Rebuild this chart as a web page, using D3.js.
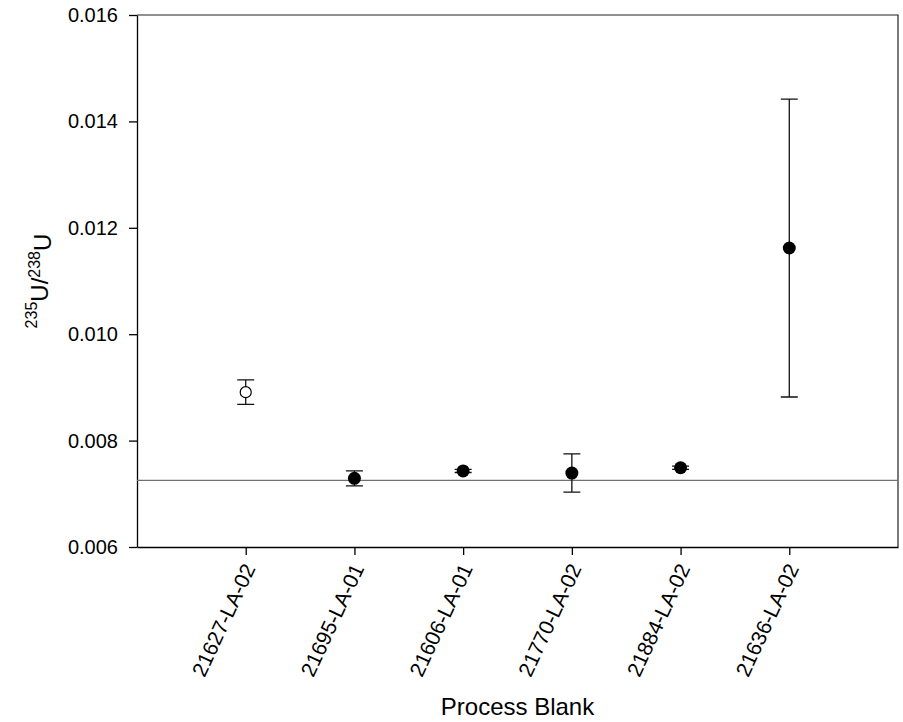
<html>
<head>
    <meta charset="utf-8">
    <title>Process Blank</title>
    <script src="https://d3js.org/d3.v7.min.js"></script>
    <style>
        body { margin: 0; background: #fff; }
        text { font-family: "Liberation Sans", Arial, sans-serif; fill: #000; }
    </style>
</head>
<body>
<script>
    var width = 903,
        height = 722,
        plotLeft = 137,
        plotRight = 898,
        plotTop = 15,
        plotBottom = 547;

    // data
    var samples = ["21627-LA-02", "21695-LA-01", "21606-LA-01", "21770-LA-02", "21884-LA-02", "21636-LA-02"];
    var ratios = [0.00891, 0.00729, 0.00743, 0.00739, 0.00749, 0.01162];
    var errors = [0.00023, 0.00014, 0.00003, 0.00036, 0.00003, 0.00280];
    var openMarker = [true, false, false, false, false, false];
    var yTicks = [0.006, 0.008, 0.010, 0.012, 0.014, 0.016];
    var naturalRatio = 0.007253;

    var svg = d3.select("body").append("svg")
        .attr("width", width)
        .attr("height", height);

    var x = d3.scaleLinear().domain([0, samples.length + 1]).range([plotLeft, plotRight]);
    var y = d3.scaleLinear().domain([0.006, 0.016]).range([plotBottom, plotTop]);

    // frame top and right
    svg.append("path")
        .attr("d", "M" + plotLeft + "," + plotTop + "H" + plotRight + "V" + plotBottom)
        .attr("fill", "none")
        .attr("stroke", "#222")
        .attr("stroke-width", 1.2);

    // y axis
    var yAxis = svg.append("g")
        .attr("transform", "translate(" + plotLeft + ",0)")
        .call(d3.axisLeft(y).tickValues(yTicks).tickFormat(d3.format(".3f"))
            .tickSize(8).tickSizeOuter(0).tickPadding(11));

    // x axis
    var xAxis = svg.append("g")
        .attr("transform", "translate(0," + plotBottom + ")")
        .call(d3.axisBottom(x).tickValues(d3.range(1, samples.length + 1))
            .tickFormat(function (d) { return samples[d - 1]; })
            .tickSize(8).tickSizeOuter(0));

    svg.selectAll(".domain, .tick line")
        .attr("stroke", "#000")
        .attr("stroke-width", 1.3);

    yAxis.selectAll("text").style("font-size", "20px").style("font-family", "Liberation Sans, Arial, sans-serif");

    xAxis.selectAll("text")
        .style("font-size", "21px")
        .style("font-family", "Liberation Sans, Arial, sans-serif")
        .attr("text-anchor", "end")
        .attr("y", 0)
        .attr("dy", "0.35em")
        .attr("transform", "translate(3,18) rotate(-65)");

    // reference line
    svg.append("line")
        .attr("x1", plotLeft).attr("x2", plotRight)
        .attr("y1", y(naturalRatio)).attr("y2", y(naturalRatio))
        .attr("stroke", "#707070")
        .attr("stroke-width", 1.4);

    // error bars
    var pts = svg.selectAll(".pt").data(samples)
        .enter().append("g")
        .attr("class", "pt");

    pts.append("path")
        .attr("d", function (d, i) {
            var cx = x(i + 1), y1 = y(ratios[i] + errors[i]), y2 = y(ratios[i] - errors[i]);
            return "M" + cx + "," + y1 + "V" + y2 +
                "M" + (cx - 8.5) + "," + y1 + "H" + (cx + 8.5) +
                "M" + (cx - 8.5) + "," + y2 + "H" + (cx + 8.5);
        })
        .attr("fill", "none")
        .attr("stroke", "#111")
        .attr("stroke-width", 1.3);

    pts.append("circle")
        .attr("cx", function (d, i) { return x(i + 1); })
        .attr("cy", function (d, i) { return y(ratios[i]); })
        .attr("r", function (d, i) { return openMarker[i] ? 5.5 : 6.5; })
        .attr("fill", function (d, i) { return openMarker[i] ? "#fff" : "#000"; })
        .attr("stroke", "#000")
        .attr("stroke-width", function (d, i) { return openMarker[i] ? 1.2 : 0; });

    // axis titles
    svg.append("text")
        .attr("x", (plotLeft + plotRight) / 2)
        .attr("y", 715)
        .attr("text-anchor", "middle")
        .style("font-size", "24px")
        .text("Process Blank");

    var yt = svg.append("text")
        .attr("transform", "translate(44,281) rotate(-90)")
        .attr("text-anchor", "middle")
        .style("font-size", "24px");
    yt.append("tspan").attr("dy", "-0.45em").style("font-size", "16px").text("235");
    yt.append("tspan").attr("dy", "0.45em").text("U/");
    yt.append("tspan").attr("dy", "-0.45em").style("font-size", "16px").text("238");
    yt.append("tspan").attr("dy", "0.45em").text("U");
</script>
</body>
</html>
